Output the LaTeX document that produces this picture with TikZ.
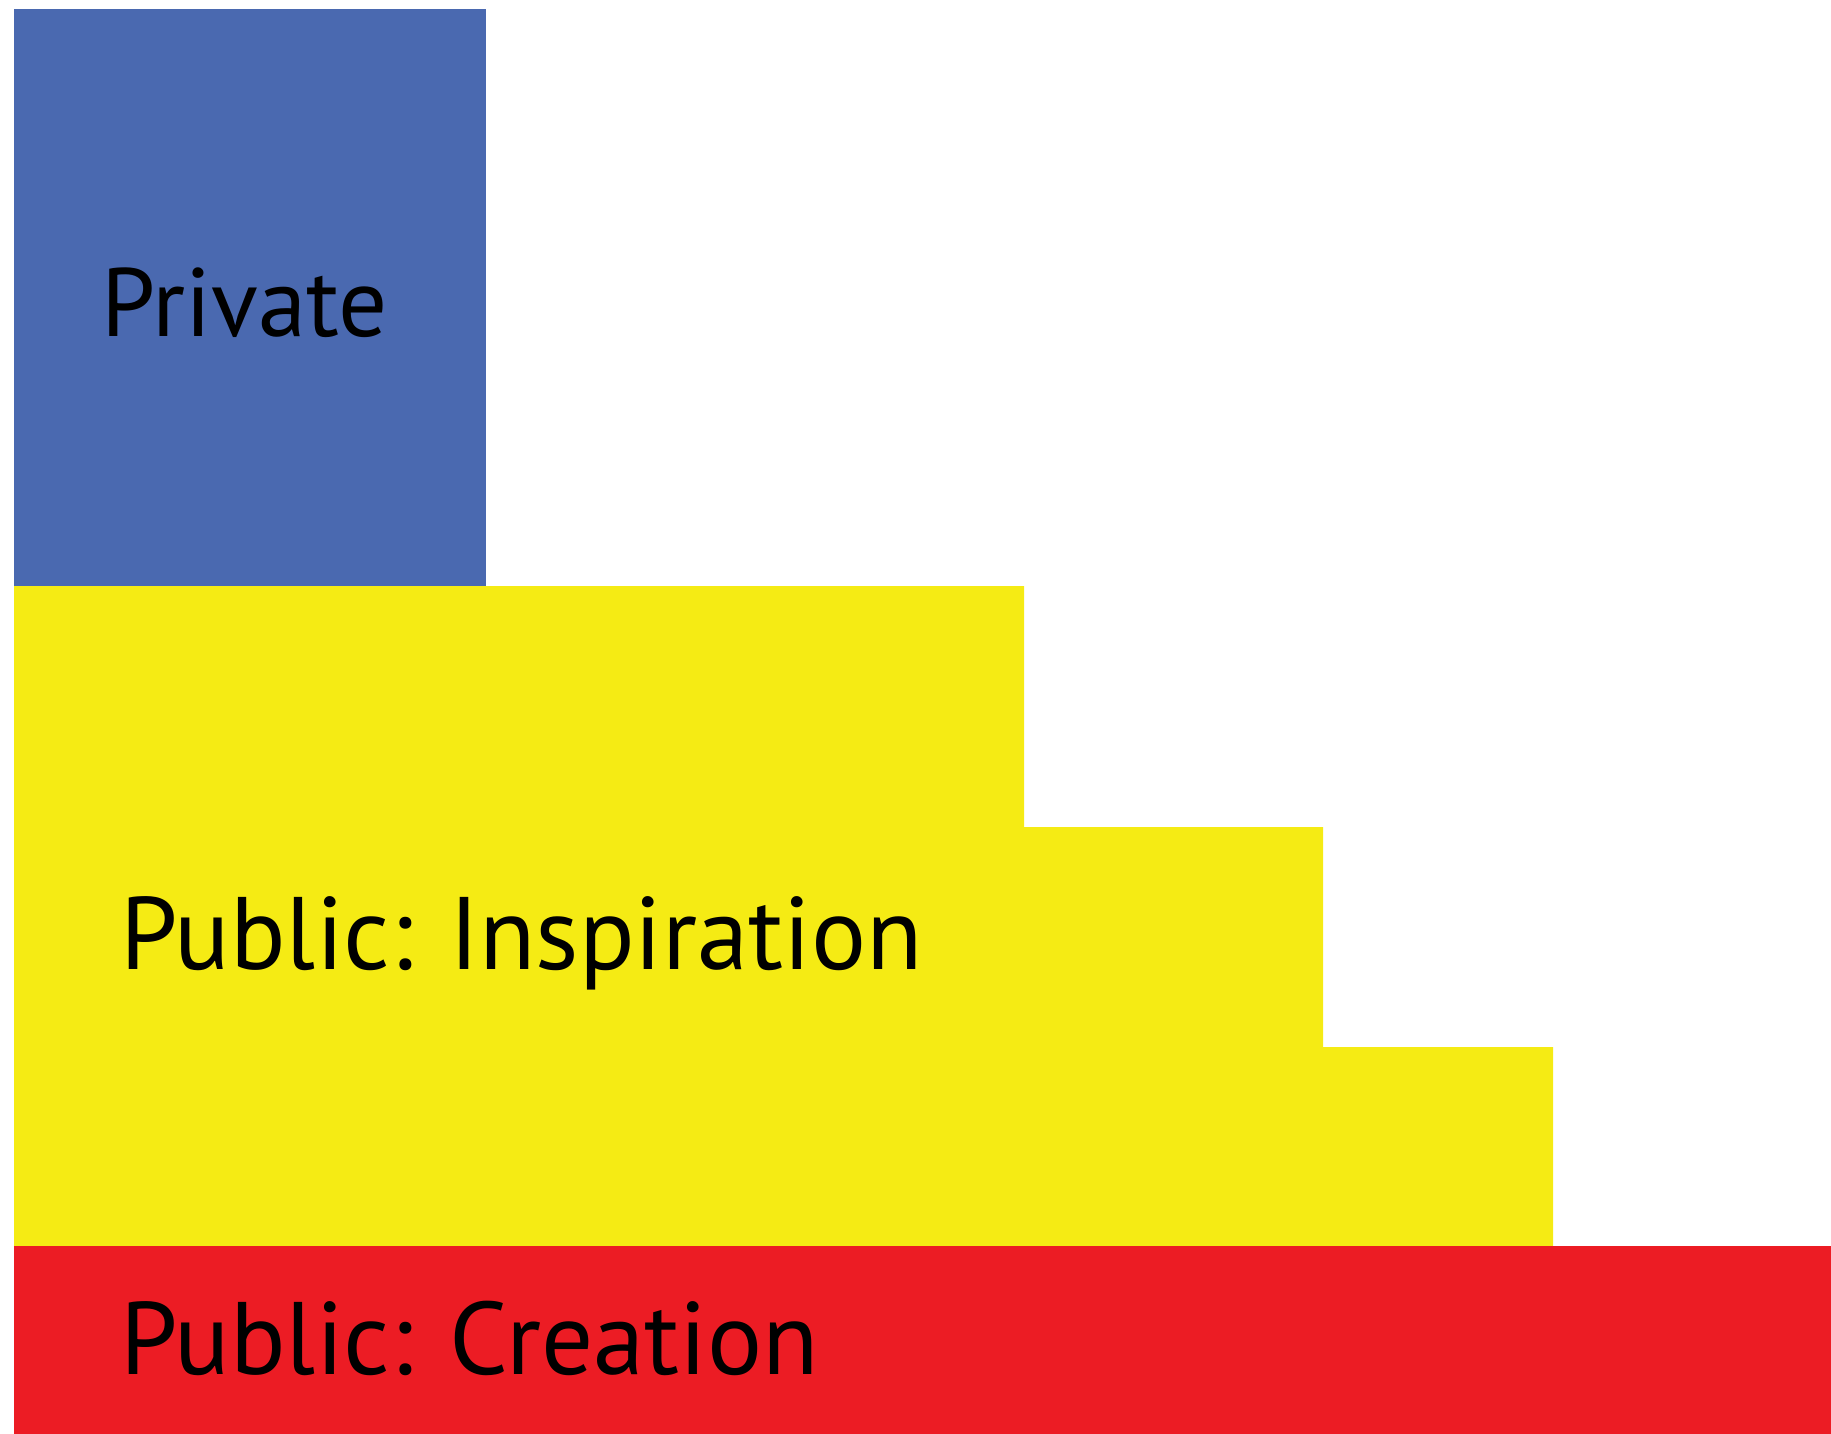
\documentclass[tikz,border=0pt]{standalone}
\usepackage{fontspec}
\setmainfont{PT Sans}
\definecolor{privblue}{RGB}{74,105,176}
\definecolor{inspyellow}{RGB}{245,235,20}
\definecolor{creatred}{RGB}{236,28,36}
\begin{document}
\begin{tikzpicture}[x=0.01cm,y=-0.01cm,
  label/.style={anchor=base west,inner sep=0pt,font=\fontsize{29.3}{34}\selectfont}]
\useasboundingbox (0,0) rectangle (1831,1434);
\fill[privblue] (14,9) rectangle (486,586);
\fill[inspyellow] (14,586) -- (1024,586) -- (1024,827) -- (1323,827)
	-- (1323,1047) -- (1553,1047) -- (1553,1246) -- (14,1246) -- cycle;
\fill[creatred] (14,1246) rectangle (1831,1434);
\node[label,font=\fontsize{27.6}{32}\selectfont] (private) at (101,337) {Private};
\node[label] (inspiration) at (120,969) {Public: Inspiration};
\node[label] (creation) at (120,1374) {Public: Creation};
\end{tikzpicture}
\end{document}
